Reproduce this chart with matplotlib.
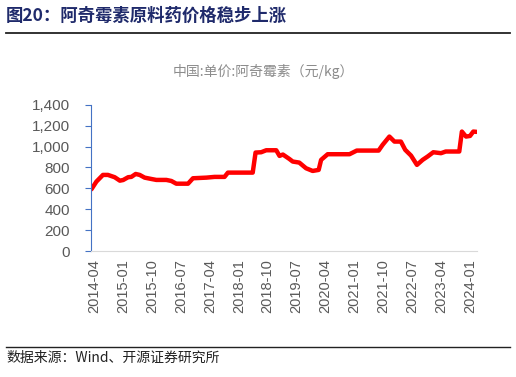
import pandas as pd
import matplotlib.pyplot as plt
from matplotlib.lines import Line2D

plt.rcParams['font.family'] = ['Noto Sans CJK SC', 'DejaVu Sans']

dates = ["2014-03-07", "2014-04-23", "2014-06-24", "2014-08-10", "2014-10-13", "2014-12-01",
         "2015-01-01", "2015-02-18", "2015-03-20", "2015-04-30", "2015-06-07", "2015-07-24",
         "2015-09-26", "2015-11-12", "2016-02-15", "2016-04-02", "2016-05-19", "2016-09-07",
         "2016-10-24", "2017-02-28", "2017-05-16", "2017-08-19", "2017-09-20", "2018-05-13",
         "2018-06-09", "2018-08-01", "2018-09-18", "2018-12-22", "2019-01-22", "2019-02-23",
         "2019-04-25", "2019-05-27", "2019-07-28", "2019-09-30", "2019-12-02", "2020-01-28",
         "2020-02-20", "2020-04-22", "2020-11-15", "2021-01-23", "2021-08-18", "2021-09-25",
         "2021-11-28", "2022-01-15", "2022-03-17", "2022-04-27", "2022-06-21", "2022-08-16",
         "2022-10-09", "2022-11-25", "2023-01-18", "2023-04-01", "2023-05-16", "2023-09-21",
         "2023-10-16", "2023-11-24", "2024-01-01", "2024-02-01", "2024-03-03"]
prices = [592, 665, 729, 729, 707, 674,
          680, 707, 710, 738, 729, 703,
          690, 681, 681, 671, 645, 645,
          697, 703, 710, 710, 751, 751,
          943, 946, 965, 965, 911, 924,
          882, 857, 847, 793, 767, 777,
          873, 927, 927, 962, 962, 1017,
          1096, 1048, 1048, 969, 914, 825,
          873, 905, 946, 937, 953, 953,
          1144, 1096, 1102, 1144, 1141]
tick_labels = ["2014-04", "2015-01", "2015-10", "2016-07", "2017-04", "2018-01", "2018-10",
               "2019-07", "2020-04", "2021-01", "2021-10", "2022-07", "2023-04", "2024-01"]
yticks = [0, 200, 400, 600, 800, 1000, 1200, 1400]

df = pd.DataFrame({"date": pd.to_datetime(dates), "price": prices})

fig = plt.figure(figsize=(5.16, 3.77), dpi=100)
ax = fig.add_axes([0.176, 0.334, 0.749, 0.388])

ax.plot(df["date"], df["price"], color="#FF0000", lw=3.2, solid_joinstyle="round",
        solid_capstyle="round")

ax.set_ylim(0, 1400)
ax.set_yticks(yticks)
ax.set_yticklabels([f"{v:,}" for v in yticks], family=["Liberation Sans"])
ticks = pd.to_datetime(tick_labels)
ax.set_xticks(ticks)
ax.set_xticklabels(tick_labels, rotation=90, family=["Liberation Sans"])
ax.set_xlim(pd.Timestamp("2014-03-01"), pd.Timestamp("2024-03-10"))

for s in ["top", "right"]:
    ax.spines[s].set_visible(False)
ax.spines["left"].set_color("#4472C4")
ax.spines["bottom"].set_color("#D9D9D9")
ax.tick_params(axis="y", colors="#595959", labelsize=11, length=4, color="#4472C4",
               pad=11)
ax.tick_params(axis="x", colors="#595959", labelsize=10.5, length=0, pad=6)

fig.text(0.51, 0.81, "中国:单价:阿奇霉素（元/kg）", ha="center", va="center",
         fontsize=10, color="#8C8C8C")

fig.text(0.012, 0.957, "图20：阿奇霉素原料药价格稳步上涨", ha="left", va="center",
         fontsize=12.5, fontweight="bold", color="#1F2A6B")
fig.add_artist(Line2D([0.012, 0.988], [0.912, 0.912], color="#222222", lw=1.3))
fig.add_artist(Line2D([0.012, 0.988], [0.08, 0.08], color="#222222", lw=1.0))
fig.text(0.012, 0.05, "数据来源：Wind、开源证券研究所", ha="left", va="center",
         fontsize=10, color="#222222")

fig.savefig("out.png", dpi=100)
